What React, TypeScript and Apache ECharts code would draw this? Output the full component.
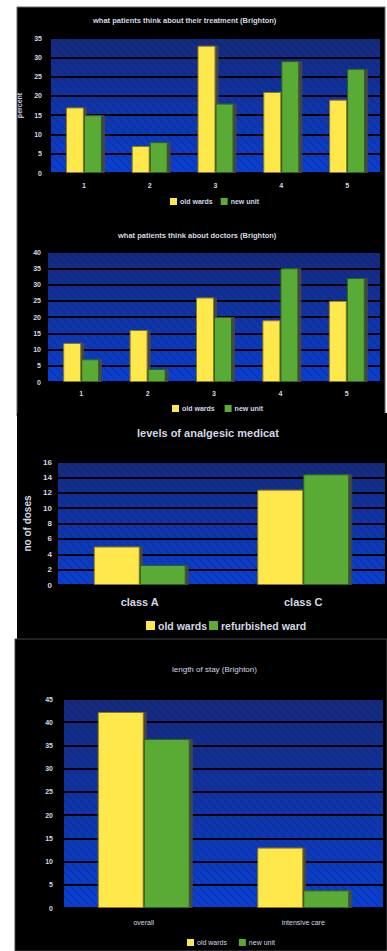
import React, { useEffect, useRef } from "react";
import * as echarts from "echarts";

const treatCats = ["1", "2", "3", "4", "5"];
const treatOld = [17, 7, 33, 21, 19];
const treatNew = [15, 8, 18, 29, 27];

const docCats = ["1", "2", "3", "4", "5"];
const docOld = [12, 16, 26, 19, 25];
const docNew = [7, 4, 20, 35, 32];

const medCats = ["class A", "class C"];
const medOld = [5, 12.4];
const medNew = [2.6, 14.4];

const stayCats = ["overall", "intensive care"];
const stayOld = [42.2, 13];
const stayNew = [36.4, 3.8];

const YELLOW = "#ffe84c";
const GREEN = "#5aab34";
const TXT = "#d4d8e4";
const FONT = "'Liberation Sans', Arial, sans-serif";

const hatchSvg =
  "<svg xmlns='http://www.w3.org/2000/svg' width='8' height='8'>" +
  "<path d='M-2,-2 L10,10 M-2,6 L2,10 M6,-2 L10,2' stroke='rgba(0,0,40,0.14)' stroke-width='1.4'/></svg>";
const hatchUrl = "data:image/svg+xml;charset=utf-8," + encodeURIComponent(hatchSvg);

const grids = [
  { left: 51, top: 38, width: 329, height: 135 },
  { left: 48, top: 252, width: 332, height: 130 },
  { left: 58, top: 462, width: 327, height: 123 },
  { left: 64, top: 699, width: 319, height: 209 },
];

export default function App() {
  const ref = useRef<HTMLDivElement>(null);
  useEffect(() => {
    if (!ref.current) return;
    const chart = echarts.init(ref.current, null, { renderer: "svg" });
    const bg = {
      type: "linear", x: 0, y: 0, x2: 0, y2: 1,
      colorStops: [
        { offset: 0, color: "#152a7c" },
        { offset: 1, color: "#0a40d2" },
      ],
    };
    const barStyle = (c: string, b: string) => ({
      color: c,
      borderColor: b,
      borderWidth: 1,
      shadowColor: "rgba(70,70,70,0.95)",
      shadowOffsetX: 3,
      shadowOffsetY: 0,
      shadowBlur: 0,
    });
    const mkX = (i: number, data: string[], fs: number, bold: boolean, margin: number) => ({
      type: "category",
      gridIndex: i,
      data,
      axisLine: { show: false },
      axisTick: { show: false },
      axisLabel: { color: TXT, fontSize: fs, fontWeight: bold ? "bold" : "normal", fontFamily: FONT, margin },
    });
    const mkY = (i: number, max: number, interval: number, fs: number, margin: number, name?: string, nameFs?: number, nameGap?: number) => ({
      type: "value",
      gridIndex: i,
      min: 0,
      max,
      interval,
      name: name || "",
      nameLocation: "middle",
      nameGap: nameGap || 0,
      nameTextStyle: { color: TXT, fontSize: nameFs || 7, fontWeight: "bold", fontFamily: FONT },
      axisLine: { show: false },
      axisTick: { show: false },
      axisLabel: { color: TXT, fontSize: fs, fontWeight: "bold", fontFamily: FONT, margin },
      splitLine: { show: true, lineStyle: { color: "#000", width: 2 } },
    });
    const mkSeries = (i: number, name: string, data: number[], color: string, border: string, bw: number) => ({
      type: "bar",
      name,
      xAxisIndex: i,
      yAxisIndex: i,
      data,
      barWidth: bw,
      barGap: "0%",
      itemStyle: barStyle(color, border),
    });
    const legend = (i: number, names: string[], left: number, top: number, fs: number, bold: boolean, gap: number, icon: number) => ({
      data: names,
      left,
      top,
      icon: "rect",
      itemWidth: icon,
      itemHeight: icon,
      itemGap: gap,
      itemStyle: { borderWidth: 0, shadowColor: "transparent", shadowOffsetX: 0 },
      textStyle: { color: TXT, fontSize: fs, fontWeight: bold ? "bold" : "normal", fontFamily: FONT, padding: [0, 0, 0, -2] },
    });
    const hatch = grids.map((g) => ({
      type: "rect",
      shape: { x: g.left, y: g.top, width: g.width, height: g.height },
      style: { fill: { image: hatchUrl, repeat: "repeat" } },
      z: 1,
      silent: true,
    }));
    chart.setOption({
      animation: false,
      backgroundColor: "#ffffff",
      graphic: [
        { type: "rect", shape: { x: 17, y: 7, width: 368, height: 409 }, style: { fill: "#000", stroke: "#666", lineWidth: 1 }, z: -10 },
        { type: "rect", shape: { x: 17, y: 413, width: 370, height: 226 }, style: { fill: "#000" }, z: -10 },
        { type: "rect", shape: { x: 15, y: 639, width: 372, height: 312 }, style: { fill: "#000", stroke: "#444", lineWidth: 1 }, z: -10 },
        ...hatch,
      ],
      title: [
        { text: "what patients think about their treatment (Brighton)", left: 88, top: 11, textStyle: { color: TXT, fontSize: 7.5, fontWeight: "bold", fontFamily: FONT } },
        { text: "what patients think about doctors (Brighton)", left: 113, top: 226, textStyle: { color: TXT, fontSize: 7.5, fontWeight: "bold", fontFamily: FONT } },
        { text: "levels of analgesic medicat", left: 132, top: 422, textStyle: { color: TXT, fontSize: 11, fontWeight: "bold", fontFamily: FONT } },
        { text: "length of stay (Brighton)", left: 167, top: 660, textStyle: { color: TXT, fontSize: 8, fontWeight: "normal", fontFamily: FONT } },
      ],
      legend: [
        legend(0, ["old wards", "new unit"], 165, 193, 7, true, 8, 7),
        legend(1, ["old wards ", "new unit "], 167, 400, 7, true, 8, 7),
        legend(2, ["old wards", "refurbished ward"], 141, 615, 10.5, true, 2, 9),
        legend(3, ["old wards  ", "new unit  "], 182, 934, 7, false, 8, 7),
      ],
      grid: grids.map((g) => ({ ...g, show: true, backgroundColor: bg, borderWidth: 0 })),
      xAxis: [
        mkX(0, treatCats, 7, true, 9),
        mkX(1, docCats, 7, true, 8),
        mkX(2, medCats, 11, true, 11),
        mkX(3, stayCats, 7, false, 11),
      ],
      yAxis: [
        mkY(0, 35, 5, 7, 9, "percent", 7, 27),
        mkY(1, 40, 5, 7, 7),
        mkY(2, 16, 2, 8, 6, "no of doses", 10, 25),
        mkY(3, 45, 5, 7, 11),
      ],
      series: [
        mkSeries(0, "old wards", treatOld, YELLOW, "#8a7a1c", 18),
        mkSeries(0, "new unit", treatNew, GREEN, "#2f5f1a", 18),
        mkSeries(1, "old wards ", docOld, YELLOW, "#8a7a1c", 18),
        mkSeries(1, "new unit ", docNew, GREEN, "#2f5f1a", 18),
        mkSeries(2, "old wards", medOld, YELLOW, "#8a7a1c", 46),
        mkSeries(2, "refurbished ward", medNew, GREEN, "#2f5f1a", 46),
        mkSeries(3, "old wards  ", stayOld, YELLOW, "#8a7a1c", 46),
        mkSeries(3, "new unit  ", stayNew, GREEN, "#2f5f1a", 46),
      ],
    });
    return () => chart.dispose();
  }, []);
  return (
    <div
      ref={ref}
      style={{ position: "absolute", left: 0, top: 0, width: 387, height: 951 }}
    />
  );
}
